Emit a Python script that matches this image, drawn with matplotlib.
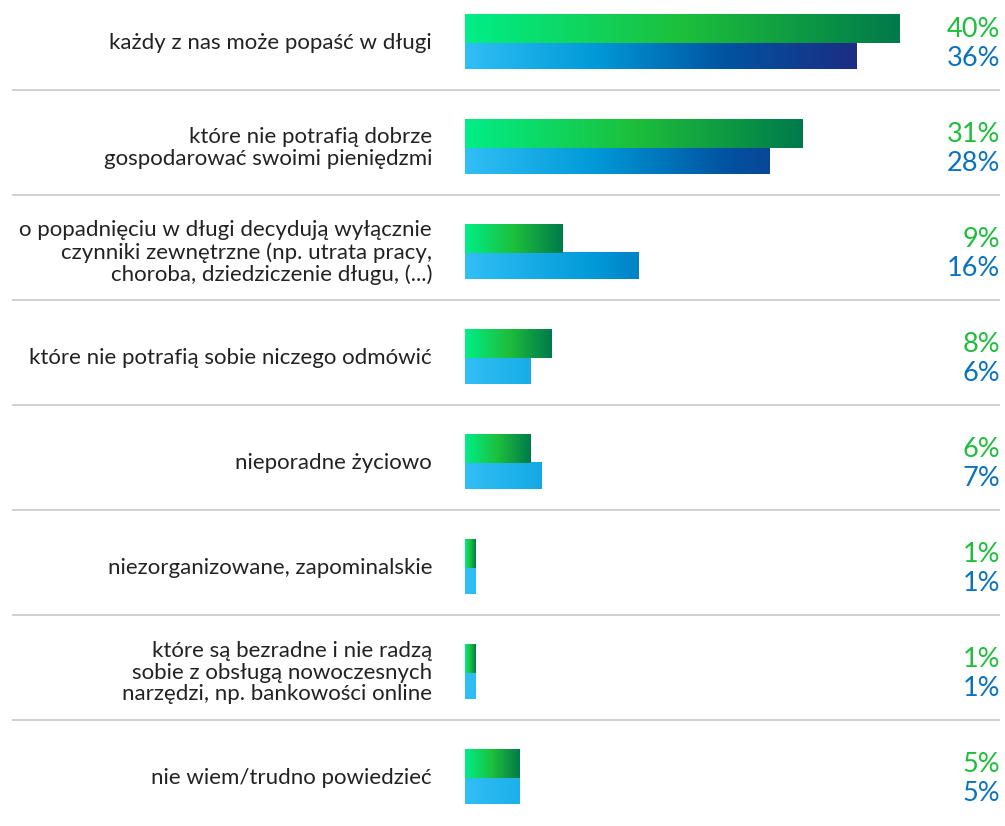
import matplotlib.pyplot as plt
import numpy as np
from matplotlib.colors import LinearSegmentedColormap
from matplotlib.patches import Rectangle

plt.rcParams['font.family'] = ['Lato', 'DejaVu Sans']

labels = [
    "każdy z nas może popaść w długi",
    "które nie potrafią dobrze\ngospodarować swoimi pieniędzmi",
    "o popadnięciu w długi decydują wyłącznie\nczynniki zewnętrzne (np. utrata pracy,\nchoroba, dziedziczenie długu, (...)",
    "które nie potrafią sobie niczego odmówić",
    "nieporadne życiowo",
    "niezorganizowane, zapominalskie",
    "które są bezradne i nie radzą\nsobie z obsługą nowoczesnych\nnarzędzi, np. bankowości online",
    "nie wiem/trudno powiedzieć",
]
green_vals = [40, 31, 9, 8, 6, 1, 1, 5]
blue_vals = [36, 28, 16, 6, 7, 1, 1, 5]

green_cmap = LinearSegmentedColormap.from_list("g", ["#00ee88", "#1dbf3b", "#007a4b"])
blue_cmap = LinearSegmentedColormap.from_list("b", ["#30bff5", "#0099d8", "#0153a0", "#1c2d84"])

px = 10.875  # pixels per percent
fig = plt.figure(figsize=(10.05, 8.26), dpi=100)
ax = fig.add_axes([0, 0, 1, 1])
spacing = 105
ax.axis("off")

h = 0.265
grad = np.linspace(0, 1, 256).reshape(1, -1)
blue_max = max(blue_vals)

for i, (lab, g, b) in enumerate(zip(labels, green_vals, blue_vals)):
    # blue bar, gradient fixed to the value scale
    rect = Rectangle((0, i), b, h, facecolor="none", edgecolor="none")
    ax.add_patch(rect)
    im = ax.imshow(grad, cmap=blue_cmap, extent=[0, blue_max, i + h, i],
                   aspect="auto", interpolation="bilinear")
    im.set_clip_path(rect)
    # green bar, gradient over its own length (drawn on top, slight overlap)
    ax.imshow(grad, cmap=green_cmap, extent=[0, g, i + 0.01, i - h], aspect="auto",
              interpolation="bilinear")

    ax.text(-33 / px, i + 0.01, lab, ha="right", va="center", fontsize=16,
            color="#222222", linespacing=1.12)
    ax.text(535 / px, i - 0.11, f"{g}%", ha="right", va="center",
            fontsize=19.5, color="#1dbe3a")
    ax.text(535 / px, i + 0.16, f"{b}%", ha="right", va="center",
            fontsize=19.5, color="#0a72bf")
    if i < len(labels) - 1:
        ax.plot([-453 / px, 535 / px], [i + 0.465, i + 0.465], color="#c8c8c8",
                lw=1.2, solid_capstyle="butt")

ax.set_xlim(-465 / px, (1005 - 465) / px)
ax.set_ylim((826 - 41.5) / spacing, -41.5 / spacing)
fig.savefig("out.png", dpi=100)
